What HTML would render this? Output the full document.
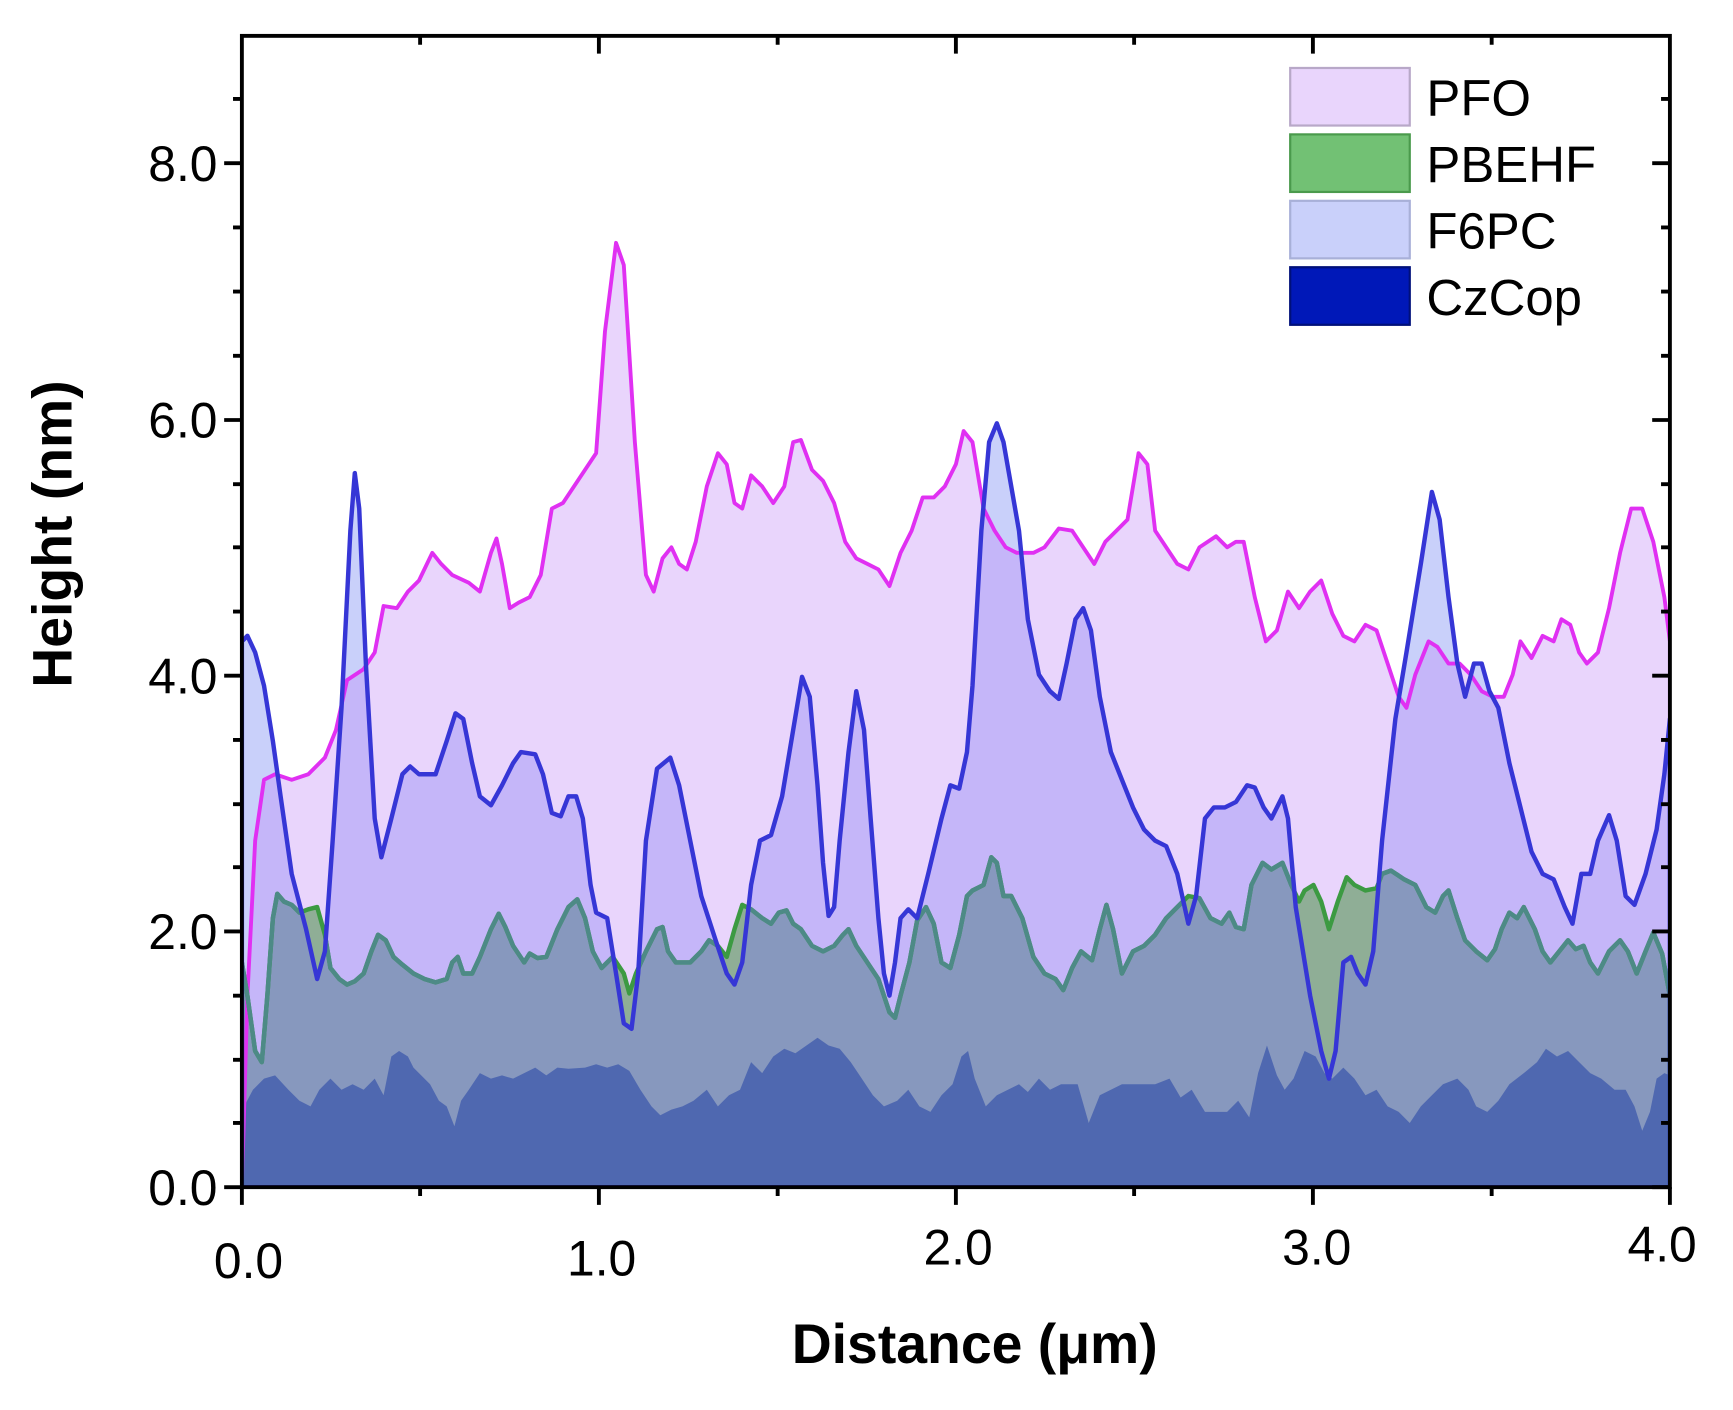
<!DOCTYPE html>
<html><head><meta charset="utf-8"><style>
html,body{margin:0;padding:0;background:#fff;}
svg{display:block;}
text{font-family:"Liberation Sans",Arial,sans-serif;fill:#000;}
</style></head><body>
<svg width="1733" height="1410" viewBox="1.5 0.6 1565.5 1273.7" preserveAspectRatio="none" xmlns="http://www.w3.org/2000/svg">
<defs>
<path id="pfo" d="M220,1073 L225,900 232,760 240,705 250,700 265,705 280,700 295,685 305,660 315,615 330,605 340,590 348,548 360,550 370,535 380,525 392,500 400,510 410,520 425,527 435,535 445,500 450,487 455,510 462,550 470,545 480,540 490,520 500,460 510,455 520,440 530,425 540,410 548,300 558,220 565,240 575,400 585,520 592,535 600,505 608,495 615,510 622,515 630,490 640,440 650,410 658,420 665,455 672,460 680,430 690,440 700,455 710,440 718,400 725,398 735,425 745,435 755,455 765,490 775,505 785,510 795,515 805,530 815,500 825,480 835,450 845,450 855,440 865,420 872,390 880,400 890,460 900,480 910,495 920,500 935,500 945,495 958,478 970,480 980,495 990,510 1000,490 1010,480 1020,470 1030,410 1038,420 1045,480 1055,495 1065,510 1075,515 1085,495 1100,485 1110,495 1118,490 1125,490 1135,540 1145,580 1155,570 1165,535 1175,550 1185,535 1195,525 1205,555 1215,575 1225,580 1235,565 1245,570 1255,600 1265,630 1272,640 1280,610 1292,580 1300,585 1310,600 1320,600 1330,610 1340,625 1350,630 1360,630 1368,610 1375,580 1385,595 1395,575 1405,580 1412,560 1420,565 1428,590 1435,600 1445,590 1455,550 1465,500 1475,460 1485,460 1495,490 1505,540 1510,580 1510,1073 Z"/>
<path id="f6" d="M220,1073 L220,580 225,575 232,590 240,620 248,670 255,720 265,790 278,840 288,885 295,860 302,760 310,640 318,480 322,428 326,460 332,600 340,740 346,775 355,740 365,700 372,693 380,700 395,700 405,670 413,645 420,650 428,690 435,720 445,728 455,710 465,690 472,680 485,682 492,700 500,735 508,738 515,720 522,720 528,740 535,800 540,825 550,830 558,880 565,925 572,930 578,880 585,760 595,695 607,685 615,710 625,760 635,810 648,850 658,880 665,890 672,870 680,800 688,760 698,755 708,720 718,660 726,612 733,630 740,710 745,780 750,828 755,820 760,760 768,680 775,625 782,660 788,740 795,830 800,880 805,900 810,870 815,830 822,822 830,830 840,790 852,740 860,710 868,713 875,680 880,620 888,480 895,400 902,383 908,400 915,440 922,480 930,560 940,610 950,625 958,632 965,600 973,560 980,550 987,570 995,630 1005,680 1015,705 1025,730 1035,750 1045,760 1055,765 1065,790 1075,835 1082,810 1090,740 1098,730 1108,730 1118,725 1128,710 1135,712 1143,730 1150,740 1160,720 1165,740 1172,820 1185,900 1195,950 1202,975 1208,950 1215,870 1222,865 1228,880 1235,890 1242,860 1250,760 1262,650 1272,590 1285,510 1295,445 1302,470 1310,540 1318,600 1325,630 1333,600 1340,600 1347,625 1355,640 1365,690 1375,730 1385,770 1395,790 1405,795 1415,820 1422,835 1430,790 1438,790 1445,760 1455,737 1462,760 1470,810 1478,818 1488,790 1498,750 1505,700 1510,650 1510,1073 Z"/>
<path id="pb" d="M220,1073 L220,870 225,900 232,950 238,960 243,900 248,830 252,808 258,815 265,818 272,825 280,822 288,820 295,845 300,875 308,885 315,890 322,887 330,880 337,860 343,845 350,850 357,865 365,872 375,880 385,885 395,888 405,885 410,870 415,865 420,880 428,880 435,865 445,840 452,826 458,838 465,855 475,870 480,862 487,866 495,865 505,840 515,820 523,813 530,830 537,860 545,875 555,865 565,880 570,898 576,880 585,860 595,840 600,838 605,860 612,870 625,870 635,860 642,850 650,855 658,865 665,840 672,818 680,822 690,830 698,835 705,825 712,823 718,835 725,840 735,855 745,860 755,855 763,845 768,840 775,855 785,870 795,885 805,915 810,920 815,900 823,870 830,832 838,820 845,835 852,870 860,875 868,845 875,810 880,805 890,800 897,775 902,780 908,810 915,810 925,830 935,865 945,880 955,885 962,895 970,875 978,860 988,868 995,840 1001,818 1007,840 1015,880 1025,860 1035,855 1045,845 1055,830 1065,820 1075,810 1085,812 1095,830 1105,835 1112,825 1118,838 1125,840 1132,800 1142,780 1150,786 1160,780 1168,800 1175,815 1180,805 1188,800 1195,815 1202,840 1210,815 1218,793 1225,800 1235,805 1245,803 1250,790 1258,787 1270,795 1280,800 1290,820 1298,825 1305,810 1310,805 1318,830 1325,850 1335,860 1345,868 1352,858 1358,840 1365,825 1372,830 1378,820 1388,840 1395,860 1402,870 1410,860 1418,850 1425,858 1432,855 1438,870 1445,880 1455,860 1465,850 1472,860 1480,880 1488,860 1495,843 1503,862 1510,900 1510,1073 Z"/>
<clipPath id="cpfo"><use href="#pfo"/></clipPath>
<clipPath id="cf6"><use href="#f6"/></clipPath>
<clipPath id="cplot"><rect x="219" y="33" width="1292" height="1041"/></clipPath>
</defs>
<g clip-path="url(#cplot)">
<use href="#pfo" fill="#e9d5fc"/>
<use href="#f6" fill="#c9d0fa"/>
<use href="#f6" fill="#c5b6f9" clip-path="url(#cpfo)"/>
<use href="#pb" fill="#8fae96"/>
<use href="#pb" fill="#8798be" clip-path="url(#cf6)"/>
<path fill="#4f68b0" d="M220,1073 L222,1000 230,985 240,975 250,972 262,985 272,995 282,1000 290,985 300,975 310,985 320,980 330,985 340,975 348,990 355,955 362,950 370,955 375,965 382,972 390,980 398,995 405,1000 412,1018 418,995 425,985 435,970 445,975 455,972 465,975 475,970 485,965 495,972 505,965 515,966 530,965 540,962 550,965 560,962 570,968 580,985 590,1000 598,1008 608,1003 618,1000 628,995 640,985 650,1000 660,990 670,985 680,960 690,970 700,955 710,948 720,952 730,945 740,938 750,945 760,948 770,960 780,975 790,990 800,1000 812,995 822,985 832,1000 842,1005 852,990 862,980 870,955 876,950 882,975 892,1000 902,990 912,985 922,980 930,987 940,975 950,985 960,980 975,980 985,1015 995,990 1005,985 1015,980 1030,980 1045,980 1058,975 1068,992 1078,985 1090,1005 1100,1005 1110,1005 1120,995 1130,1010 1138,970 1146,945 1155,972 1162,985 1170,975 1180,950 1190,955 1198,970 1205,975 1215,965 1225,975 1235,990 1245,985 1255,1000 1265,1005 1275,1015 1285,1000 1295,990 1305,980 1318,975 1328,985 1335,1000 1345,1005 1355,995 1365,980 1378,970 1390,960 1398,948 1408,955 1418,950 1428,960 1438,970 1448,975 1460,985 1470,985 1478,1000 1485,1022 1492,1005 1498,975 1505,970 1510,972 1510,1073 Z"/>
<use href="#pfo" fill="none" stroke="#e030f2" stroke-width="3.5" stroke-linejoin="round"/>
<use href="#pb" fill="none" stroke="#3c9a42" stroke-width="4" stroke-linejoin="round"/>
<use href="#pb" fill="none" stroke="#4d8a86" stroke-width="4" stroke-linejoin="round" clip-path="url(#cf6)"/>
<use href="#f6" fill="none" stroke="#3636d6" stroke-width="4" stroke-linejoin="round"/>
</g>
<rect x="220" y="33" width="1290" height="1040" fill="none" stroke="#000" stroke-width="3.5"/>
<g stroke="#000" stroke-width="3.5">
<path d="M204,1073H220 M204,842H220 M204,611H220 M204,380H220 M204,148H220
M212,1015H220 M212,958H220 M212,900H220 M212,784H220 M212,727H220 M212,669H220 M212,553H220 M212,495H220 M212,438H220 M212,322H220 M212,264H220 M212,206H220 M212,90H220
M1494,1073H1510 M1494,842H1510 M1494,611H1510 M1494,380H1510 M1494,148H1510
M1502,1015H1510 M1502,958H1510 M1502,900H1510 M1502,784H1510 M1502,727H1510 M1502,669H1510 M1502,553H1510 M1502,495H1510 M1502,438H1510 M1502,322H1510 M1502,264H1510 M1502,206H1510 M1502,90H1510"/>
<path d="M220,1073V1089 M542.5,1073V1089 M865,1073V1089 M1187.5,1073V1089 M1510,1073V1089
M381,1073V1081 M704,1073V1081 M1026,1073V1081 M1349,1073V1081
M542.5,33V49 M865,33V49 M1187.5,33V49 M381,33V41 M704,33V41 M1026,33V41 M1349,33V41"/>
</g>
<g font-size="45" text-anchor="end">
<text x="198" y="1089">0.0</text>
<text x="198" y="858">2.0</text>
<text x="198" y="627">4.0</text>
<text x="198" y="396">6.0</text>
<text x="198" y="164">8.0</text>
</g>
<g font-size="45" text-anchor="middle">
<text x="226" y="1155">0.0</text>
<text x="545" y="1153">1.0</text>
<text x="867" y="1143">2.0</text>
<text x="1191" y="1143">3.0</text>
<text x="1503" y="1140">4.0</text>
</g>
<text x="882" y="1232" font-size="50" text-anchor="middle" font-weight="bold" style="font-weight:600">Distance (μm)</text>
<text transform="translate(66,483) rotate(-90)" font-size="50" text-anchor="middle" font-weight="bold">Height (nm)</text>
<rect x="1167" y="62" width="108" height="52" fill="#e9d5fc" stroke="#b8a8c8" stroke-width="2"/>
<rect x="1167" y="122" width="108" height="52" fill="#72c174" stroke="#4a9a4c" stroke-width="2"/>
<rect x="1167" y="182" width="108" height="52" fill="#c9d0fa" stroke="#a8b0d8" stroke-width="2"/>
<rect x="1167" y="242" width="108" height="52" fill="#0018b8" stroke="#00107a" stroke-width="2"/>
<g font-size="46">
<text x="1290" y="105">PFO</text>
<text x="1290" y="165">PBEHF</text>
<text x="1290" y="225">F6PC</text>
<text x="1290" y="285">CzCop</text>
</g>
</svg>
</body></html>
